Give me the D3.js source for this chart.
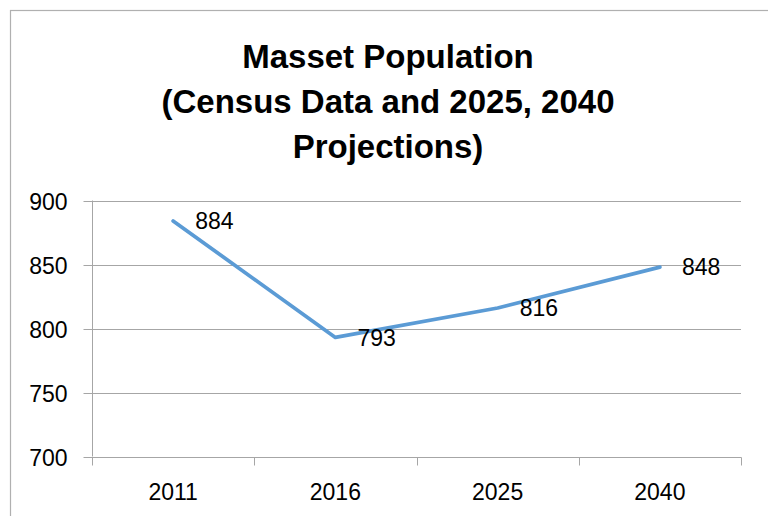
<!DOCTYPE html>
<html>
<head>
<meta charset="utf-8">
<script src="https://cdn.jsdelivr.net/npm/d3@7"></script>
<style>
  html, body { margin: 0; padding: 0; background: #fff; }
  svg { display: block; font-family: "Liberation Sans", Arial, sans-serif; }
</style>
</head>
<body>
<svg id="chart" width="768" height="516"></svg>
<script>
const titleLines = ["Masset Population", "(Census Data and 2025, 2040", "Projections)"];
const categories = ["2011", "2016", "2025", "2040"];
const population = [884, 793, 816, 848];
const yTicks = [700, 750, 800, 850, 900];

const svg = d3.select("#chart");

// chart border
svg.append("rect")
  .attr("x", 10.5).attr("y", 10.5)
  .attr("width", 800).attr("height", 600)
  .attr("fill", "#fff").attr("stroke", "#b0b0b0").attr("stroke-width", 1.2);

const plot = { left: 92, right: 741, top: 200.5, bottom: 456.5 };

const x = d3.scaleBand().domain(categories).range([plot.left, plot.right]).padding(0);
const y = d3.scaleLinear().domain([700, 900]).range([plot.bottom, plot.top]);

// title
const title = svg.append("text")
  .attr("x", 388).attr("text-anchor", "middle")
  .attr("font-size", 33).attr("font-weight", "bold").attr("fill", "#000");
titleLines.forEach((t, i) => {
  title.append("tspan").attr("x", 388).attr("y", 68 + i * 45).text(t);
});

// gridlines
svg.append("g")
  .selectAll("line").data(yTicks.filter(d => d !== 700)).join("line")
  .attr("x1", plot.left).attr("x2", plot.right)
  .attr("y1", d => Math.round(y(d)) + 0.5).attr("y2", d => Math.round(y(d)) + 0.5)
  .attr("stroke", "#a6a6a6").attr("stroke-width", 1);

// y axis
const yAxis = svg.append("g")
  .attr("transform", `translate(${plot.left + 0.5},0)`)
  .call(d3.axisLeft(y).tickValues(yTicks).tickSize(9).tickPadding(16).tickFormat(d3.format("d")));
yAxis.select(".domain").attr("stroke", "#a6a6a6").attr("d", `M0,${plot.top}V${plot.bottom}`);
yAxis.selectAll(".tick line").attr("stroke", "#a6a6a6");
yAxis.selectAll(".tick").attr("transform", d => `translate(0,${Math.round(y(d)) + 0.5})`);
yAxis.selectAll("text").attr("font-size", 23).attr("fill", "#000")
  .attr("font-family", "Liberation Sans, Arial, sans-serif").attr("dy", "0.35em");

// x axis
const xAxisG = svg.append("g").attr("transform", `translate(0,${Math.round(y(700)) + 0.5})`);
xAxisG.append("line").attr("x1", plot.left).attr("x2", plot.right + 0.5)
  .attr("stroke", "#a6a6a6");
const boundaries = categories.map(c => x(c)).concat([x(categories[categories.length - 1]) + x.bandwidth()]);
xAxisG.selectAll(".xt").data(boundaries).join("line").attr("class", "xt")
  .attr("x1", d => Math.round(d) + 0.5).attr("x2", d => Math.round(d) + 0.5)
  .attr("y1", 0).attr("y2", 8).attr("stroke", "#a6a6a6");
xAxisG.selectAll(".xl").data(categories).join("text").attr("class", "xl")
  .attr("x", d => x(d) + x.bandwidth() / 2).attr("y", 42.5)
  .attr("text-anchor", "middle").attr("font-size", 23).attr("fill", "#000").text(d => d);

// line
const pts = categories.map((c, i) => [x(c) + x.bandwidth() / 2, y(population[i])]);
svg.append("path")
  .attr("d", d3.line()(pts))
  .attr("fill", "none").attr("stroke", "#5b9bd5").attr("stroke-width", 3.75)
  .attr("stroke-linejoin", "round").attr("stroke-linecap", "round");

// data labels
svg.append("g").selectAll("text").data(population).join("text")
  .attr("x", (d, i) => pts[i][0] + 22)
  .attr("y", (d, i) => pts[i][1])
  .attr("dy", "0.35em")
  .attr("font-size", 23).attr("fill", "#000")
  .text(d => d);
</script>
</body>
</html>
